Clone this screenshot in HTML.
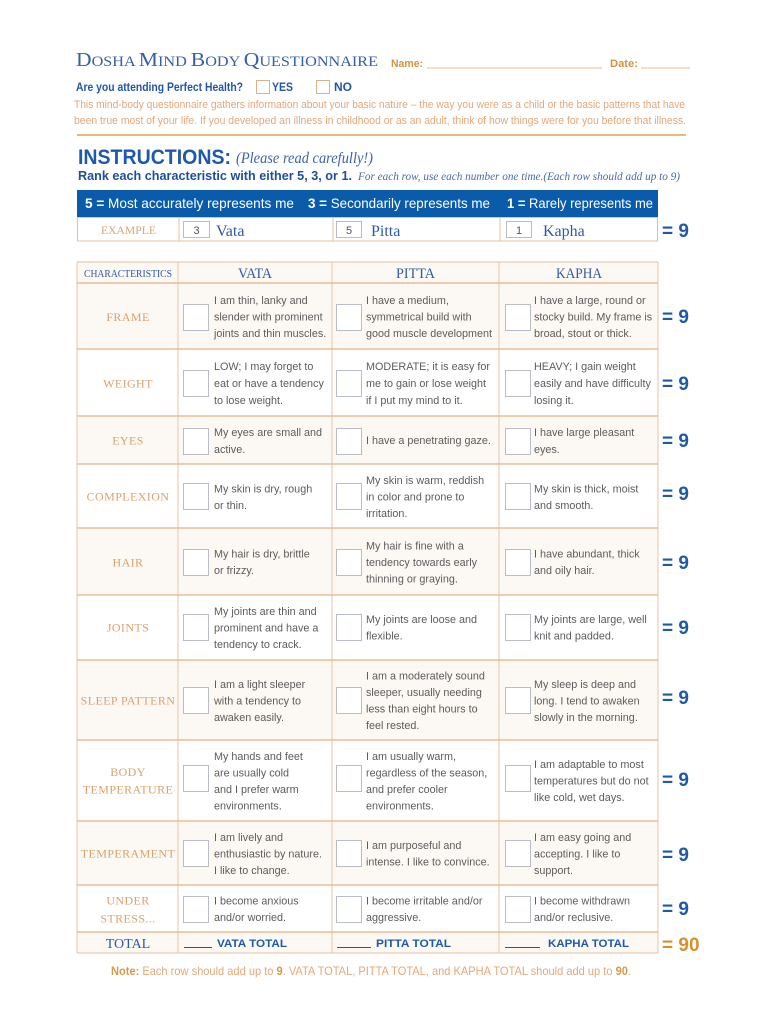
<!DOCTYPE html>
<html><head><meta charset="utf-8"><style>
html,body{margin:0;padding:0;background:#fff;}
svg{display:block;}
.s{font-family:"Liberation Sans",sans-serif;}
.r{font-family:"Liberation Serif",serif;}
.b{font-family:"Liberation Sans",sans-serif;font-size:10.8px;fill:#5c5c5c;}
.lab{font-family:"Liberation Serif",serif;font-size:12px;fill:#d9a26c;letter-spacing:0.4px;text-anchor:middle;}
.eq{font-family:"Liberation Sans",sans-serif;font-size:19px;font-weight:bold;fill:#1d5aaa;}
.box{fill:#fff;stroke:#b9bdc7;stroke-width:1;}
.hl{stroke:#e7b184;stroke-width:1.3;}
.vl{stroke:#eecdb2;stroke-width:1.2;}
</style></head><body>
<svg width="770" height="1024" viewBox="0 0 770 1024" xmlns="http://www.w3.org/2000/svg">
<rect width="770" height="1024" fill="#fff"/>

<!-- Title -->
<text class="r" x="76" y="66" fill="#3560a8" textLength="302" lengthAdjust="spacingAndGlyphs"><tspan font-size="20">D</tspan><tspan font-size="15">OSHA </tspan><tspan font-size="20">M</tspan><tspan font-size="15">IND </tspan><tspan font-size="20">B</tspan><tspan font-size="15">ODY </tspan><tspan font-size="20">Q</tspan><tspan font-size="15">UESTIONNAIRE</tspan></text>
<text class="s" x="391" y="67" font-size="11" font-weight="bold" fill="#d4933e" textLength="32" lengthAdjust="spacingAndGlyphs">Name:</text>
<line x1="427" y1="68" x2="602" y2="68" stroke="#e2bf98" stroke-width="1"/>
<text class="s" x="610" y="67" font-size="11" font-weight="bold" fill="#d4933e" textLength="28" lengthAdjust="spacingAndGlyphs">Date:</text>
<line x1="641" y1="68" x2="690" y2="68" stroke="#e2bf98" stroke-width="1"/>

<text class="s" x="76" y="91" font-size="12" font-weight="bold" fill="#2456a4" textLength="167" lengthAdjust="spacingAndGlyphs">Are you attending Perfect Health?</text>
<rect x="256.5" y="80.5" width="13" height="13" fill="none" stroke="#d9b18c" stroke-width="1"/>
<text class="s" x="272" y="91" font-size="12" font-weight="bold" fill="#2456a4" textLength="21" lengthAdjust="spacingAndGlyphs">YES</text>
<rect x="316.5" y="80.5" width="13" height="13" fill="none" stroke="#d9b18c" stroke-width="1"/>
<text class="s" x="334" y="91" font-size="12" font-weight="bold" fill="#2456a4" textLength="18" lengthAdjust="spacingAndGlyphs">NO</text>

<text class="s" x="74" y="108" font-size="11" fill="#e3a77a" textLength="611" lengthAdjust="spacingAndGlyphs">This mind-body questionnaire gathers information about your basic nature – the way you were as a child or the basic patterns  that have</text>
<text class="s" x="74" y="124" font-size="11" fill="#e3a77a" textLength="612" lengthAdjust="spacingAndGlyphs">been true most of your life. If you developed an illness in childhood or as an adult, think of how things were for you before that illness.</text>
<line x1="77" y1="135" x2="686" y2="135" stroke="#d9912b" stroke-width="1.3"/>

<!-- Instructions -->
<text class="s" x="78" y="164" font-size="21" font-weight="bold" fill="#1e5aab" textLength="153" lengthAdjust="spacingAndGlyphs">INSTRUCTIONS:</text>
<text class="r" x="236" y="163" font-size="16" font-style="italic" fill="#3d63a8" textLength="137" lengthAdjust="spacingAndGlyphs">(Please read carefully!)</text>
<text class="s" x="78" y="180" font-size="13" font-weight="bold" fill="#1e4f9e" textLength="274" lengthAdjust="spacingAndGlyphs">Rank each characteristic with either 5, 3, or 1.</text>
<text class="r" x="358" y="180" font-size="12" font-style="italic" fill="#4a6aa8" textLength="322" lengthAdjust="spacingAndGlyphs">For each row, use each number one time.(Each row should add up to 9)</text>

<rect x="77" y="190" width="581" height="27" fill="#0b5bab"/>
<text class="s" x="85" y="208" font-size="14" fill="#fff" textLength="209" lengthAdjust="spacingAndGlyphs"><tspan font-weight="bold">5 =</tspan> Most accurately represents me</text>
<text class="s" x="308" y="208" font-size="14" fill="#fff" textLength="182" lengthAdjust="spacingAndGlyphs"><tspan font-weight="bold">3 =</tspan> Secondarily represents me</text>
<text class="s" x="507" y="208" font-size="14" fill="#fff" textLength="146" lengthAdjust="spacingAndGlyphs"><tspan font-weight="bold">1 =</tspan> Rarely represents me</text>

<!-- Example row -->
<rect x="77.5" y="217.5" width="580" height="23.5" fill="#fff" stroke="#e8c09c" stroke-width="1"/>
<line x1="179" y1="217" x2="179" y2="241" stroke="#e8c09c" stroke-width="1"/>
<line x1="333" y1="217" x2="333" y2="241" stroke="#e8c09c" stroke-width="1"/>
<line x1="500" y1="217" x2="500" y2="241" stroke="#e8c09c" stroke-width="1"/>
<text class="r" x="101" y="234" font-size="12" fill="#d9a873" textLength="55" lengthAdjust="spacingAndGlyphs">EXAMPLE</text>
<rect x="183.5" y="221.5" width="26" height="16" fill="#fff" stroke="#b9bdc7"/>
<text class="s" x="196.5" y="234" font-size="11" fill="#555" text-anchor="middle">3</text>
<text class="r" x="216" y="236" font-size="16" fill="#2d5aa5">Vata</text>
<rect x="336.5" y="221.5" width="25" height="16" fill="#fff" stroke="#b9bdc7"/>
<text class="s" x="349" y="234" font-size="11" fill="#555" text-anchor="middle">5</text>
<text class="r" x="371" y="236" font-size="16" fill="#2d5aa5">Pitta</text>
<rect x="506.5" y="221.5" width="25" height="16" fill="#fff" stroke="#b9bdc7"/>
<text class="s" x="519" y="234" font-size="11" fill="#555" text-anchor="middle">1</text>
<text class="r" x="543" y="236" font-size="16" fill="#2d5aa5">Kapha</text>
<text class="eq" x="662" y="237">= 9</text>

<!-- Table backgrounds -->
<rect x="77" y="262" width="581" height="21" fill="#fcf8f4"/>
<rect x="77" y="283" width="581" height="66" fill="#fcf8f4"/>
<rect x="77" y="416" width="581" height="48" fill="#fcf8f4"/>
<rect x="77" y="528" width="581" height="67" fill="#fcf8f4"/>
<rect x="77" y="660" width="581" height="80" fill="#fcf8f4"/>
<rect x="77" y="821" width="581" height="64" fill="#fcf8f4"/>
<rect x="77" y="932" width="581" height="21" fill="#fcf8f4"/>

<!-- Table lines -->
<line class="vl" x1="77" y1="262" x2="77" y2="953"/>
<line class="vl" x1="178" y1="262" x2="178" y2="953"/>
<line class="vl" x1="332" y1="262" x2="332" y2="953"/>
<line class="vl" x1="499" y1="262" x2="499" y2="953"/>
<line class="vl" x1="658" y1="262" x2="658" y2="953"/>
<line x1="77" y1="262" x2="658" y2="262" stroke="#eccbad" stroke-width="1.2"/>
<line class="hl" x1="77" y1="283" x2="658" y2="283"/>
<line class="hl" x1="77" y1="349" x2="658" y2="349"/>
<line class="hl" x1="77" y1="416" x2="658" y2="416"/>
<line class="hl" x1="77" y1="464" x2="658" y2="464"/>
<line class="hl" x1="77" y1="528" x2="658" y2="528"/>
<line class="hl" x1="77" y1="595" x2="658" y2="595"/>
<line class="hl" x1="77" y1="660" x2="658" y2="660"/>
<line class="hl" x1="77" y1="740" x2="658" y2="740"/>
<line class="hl" x1="77" y1="821" x2="658" y2="821"/>
<line class="hl" x1="77" y1="885" x2="658" y2="885"/>
<line class="hl" x1="77" y1="932" x2="658" y2="932"/>
<line x1="77" y1="953" x2="658" y2="953" stroke="#eccbad" stroke-width="1.2"/>

<!-- Header row -->
<text class="r" x="84" y="277" font-size="11" fill="#2d5aa5" textLength="88" lengthAdjust="spacingAndGlyphs">CHARACTERISTICS</text>
<text class="r" x="238" y="278" font-size="15" fill="#2d5aa5" textLength="34" lengthAdjust="spacingAndGlyphs">VATA</text>
<text class="r" x="396" y="278" font-size="15" fill="#2d5aa5" textLength="39" lengthAdjust="spacingAndGlyphs">PITTA</text>
<text class="r" x="556" y="278" font-size="15" fill="#2d5aa5" textLength="46" lengthAdjust="spacingAndGlyphs">KAPHA</text>

<!-- Labels -->
<text class="lab" x="128" y="321">FRAME</text>
<text class="lab" x="128" y="387.5">WEIGHT</text>
<text class="lab" x="128" y="444.5">EYES</text>
<text class="lab" x="128" y="500.5">COMPLEXION</text>
<text class="lab" x="128" y="566.5">HAIR</text>
<text class="lab" x="128" y="631.5">JOINTS</text>
<text class="lab" x="128" y="704.5">SLEEP PATTERN</text>
<text class="lab" x="128" y="776">BODY</text>
<text class="lab" x="128" y="793.5">TEMPERATURE</text>
<text class="lab" x="128" y="857.5">TEMPERAMENT</text>
<text class="lab" x="128" y="904.5">UNDER</text>
<text class="lab" x="128" y="922.5">STRESS...</text>
<text class="r" x="128" y="948" font-size="14" fill="#2d5aa5" text-anchor="middle">TOTAL</text>

<!-- Checkboxes -->
<g>
<rect class="box" x="183.5" y="304.5" width="25" height="26"/><rect class="box" x="336.5" y="304.5" width="25" height="26"/><rect class="box" x="505.5" y="304.5" width="25" height="26"/>
<rect class="box" x="183.5" y="370.5" width="25" height="26"/><rect class="box" x="336.5" y="370.5" width="25" height="26"/><rect class="box" x="505.5" y="370.5" width="25" height="26"/>
<rect class="box" x="183.5" y="428.5" width="25" height="26"/><rect class="box" x="336.5" y="428.5" width="25" height="26"/><rect class="box" x="505.5" y="428.5" width="25" height="26"/>
<rect class="box" x="183.5" y="483.5" width="25" height="26"/><rect class="box" x="336.5" y="483.5" width="25" height="26"/><rect class="box" x="505.5" y="483.5" width="25" height="26"/>
<rect class="box" x="183.5" y="549.5" width="25" height="26"/><rect class="box" x="336.5" y="549.5" width="25" height="26"/><rect class="box" x="505.5" y="549.5" width="25" height="26"/>
<rect class="box" x="183.5" y="614.5" width="25" height="26"/><rect class="box" x="336.5" y="614.5" width="25" height="26"/><rect class="box" x="505.5" y="614.5" width="25" height="26"/>
<rect class="box" x="183.5" y="687.5" width="25" height="26"/><rect class="box" x="336.5" y="687.5" width="25" height="26"/><rect class="box" x="505.5" y="687.5" width="25" height="26"/>
<rect class="box" x="183.5" y="765.5" width="25" height="26"/><rect class="box" x="336.5" y="765.5" width="25" height="26"/><rect class="box" x="505.5" y="765.5" width="25" height="26"/>
<rect class="box" x="183.5" y="840.5" width="25" height="26"/><rect class="box" x="336.5" y="840.5" width="25" height="26"/><rect class="box" x="505.5" y="840.5" width="25" height="26"/>
<rect class="box" x="183.5" y="896.5" width="25" height="26"/><rect class="box" x="336.5" y="896.5" width="25" height="26"/><rect class="box" x="505.5" y="896.5" width="25" height="26"/>
</g>

<!-- Frame -->
<text class="b" x="214" y="304">I am thin, lanky and</text>
<text class="b" x="214" y="320.5">slender with prominent</text>
<text class="b" x="214" y="337">joints and thin muscles.</text>
<text class="b" x="366" y="304">I have a medium,</text>
<text class="b" x="366" y="320.5">symmetrical build with</text>
<text class="b" x="366" y="337">good muscle development</text>
<text class="b" x="534" y="304">I have a large, round or</text>
<text class="b" x="534" y="320.5">stocky build. My frame is</text>
<text class="b" x="534" y="337">broad, stout or thick.</text>

<!-- Weight -->
<text class="b" x="214" y="370">LOW; I may forget to</text>
<text class="b" x="214" y="387">eat or have a tendency</text>
<text class="b" x="214" y="404">to lose weight.</text>
<text class="b" x="366" y="370">MODERATE; it is easy for</text>
<text class="b" x="366" y="387">me to gain or lose weight</text>
<text class="b" x="366" y="404">if I put my mind to it.</text>
<text class="b" x="534" y="370">HEAVY; I gain weight</text>
<text class="b" x="534" y="387">easily and have difficulty</text>
<text class="b" x="534" y="404">losing it.</text>

<!-- Eyes -->
<text class="b" x="214" y="436">My eyes are small and</text>
<text class="b" x="214" y="453">active.</text>
<text class="b" x="366" y="444">I have a penetrating gaze.</text>
<text class="b" x="534" y="436">I have large pleasant</text>
<text class="b" x="534" y="453">eyes.</text>

<!-- Complexion -->
<text class="b" x="214" y="492.5">My skin is dry, rough</text>
<text class="b" x="214" y="509">or thin.</text>
<text class="b" x="366" y="484">My skin is warm, reddish</text>
<text class="b" x="366" y="500.5">in color and prone to</text>
<text class="b" x="366" y="517">irritation.</text>
<text class="b" x="534" y="492.5">My skin is thick, moist</text>
<text class="b" x="534" y="509">and smooth.</text>

<!-- Hair -->
<text class="b" x="214" y="557.5">My hair is dry, brittle</text>
<text class="b" x="214" y="574">or frizzy.</text>
<text class="b" x="366" y="549.5">My hair is fine with a</text>
<text class="b" x="366" y="566">tendency towards early</text>
<text class="b" x="366" y="582.5">thinning or graying.</text>
<text class="b" x="534" y="557.5">I have abundant, thick</text>
<text class="b" x="534" y="574">and oily hair.</text>

<!-- Joints -->
<text class="b" x="214" y="615">My joints are thin and</text>
<text class="b" x="214" y="631.5">prominent and have a</text>
<text class="b" x="214" y="648">tendency to crack.</text>
<text class="b" x="366" y="623">My joints are loose and</text>
<text class="b" x="366" y="639.5">flexible.</text>
<text class="b" x="534" y="623">My joints are large, well</text>
<text class="b" x="534" y="639.5">knit and padded.</text>

<!-- Sleep -->
<text class="b" x="214" y="688">I am a light sleeper</text>
<text class="b" x="214" y="704.5">with a tendency to</text>
<text class="b" x="214" y="721">awaken easily.</text>
<text class="b" x="366" y="679.5">I am a moderately sound</text>
<text class="b" x="366" y="696">sleeper, usually needing</text>
<text class="b" x="366" y="712.5">less than eight hours to</text>
<text class="b" x="366" y="729">feel rested.</text>
<text class="b" x="534" y="688">My sleep is deep and</text>
<text class="b" x="534" y="704.5">long. I tend to awaken</text>
<text class="b" x="534" y="721">slowly in the morning.</text>

<!-- Body temperature -->
<text class="b" x="214" y="760">My hands and feet</text>
<text class="b" x="214" y="776.5">are usually cold</text>
<text class="b" x="214" y="793">and I prefer warm</text>
<text class="b" x="214" y="809.5">environments.</text>
<text class="b" x="366" y="760">I am usually warm,</text>
<text class="b" x="366" y="776.5">regardless of the season,</text>
<text class="b" x="366" y="793">and prefer cooler</text>
<text class="b" x="366" y="809.5">environments.</text>
<text class="b" x="534" y="768">I am adaptable to most</text>
<text class="b" x="534" y="784.5">temperatures but do not</text>
<text class="b" x="534" y="801">like cold, wet days.</text>

<!-- Temperament -->
<text class="b" x="214" y="841">I am lively and</text>
<text class="b" x="214" y="857.5">enthusiastic by nature.</text>
<text class="b" x="214" y="874">I like to change.</text>
<text class="b" x="366" y="849">I am purposeful and</text>
<text class="b" x="366" y="865.5">intense. I like to convince.</text>
<text class="b" x="534" y="841">I am easy going and</text>
<text class="b" x="534" y="857.5">accepting. I like to</text>
<text class="b" x="534" y="874">support.</text>

<!-- Stress -->
<text class="b" x="214" y="904.5">I become anxious</text>
<text class="b" x="214" y="921">and/or worried.</text>
<text class="b" x="366" y="904.5">I become irritable and/or</text>
<text class="b" x="366" y="921">aggressive.</text>
<text class="b" x="534" y="904.5">I become withdrawn</text>
<text class="b" x="534" y="921">and/or reclusive.</text>

<!-- Totals -->
<line x1="184" y1="947.5" x2="212" y2="947.5" stroke="#1e5aab" stroke-width="1"/>
<text class="s" x="217" y="947" font-size="11" font-weight="bold" fill="#1e5aab" textLength="70" lengthAdjust="spacingAndGlyphs">VATA TOTAL</text>
<line x1="337" y1="947.5" x2="371" y2="947.5" stroke="#1e5aab" stroke-width="1"/>
<text class="s" x="376" y="947" font-size="11" font-weight="bold" fill="#1e5aab" textLength="75" lengthAdjust="spacingAndGlyphs">PITTA TOTAL</text>
<line x1="505" y1="947.5" x2="540" y2="947.5" stroke="#1e5aab" stroke-width="1"/>
<text class="s" x="548" y="947" font-size="11" font-weight="bold" fill="#1e5aab" textLength="81" lengthAdjust="spacingAndGlyphs">KAPHA TOTAL</text>

<!-- = 9 column -->
<text class="eq" x="662" y="323">= 9</text>
<text class="eq" x="662" y="390">= 9</text>
<text class="eq" x="662" y="447">= 9</text>
<text class="eq" x="662" y="500">= 9</text>
<text class="eq" x="662" y="569">= 9</text>
<text class="eq" x="662" y="634">= 9</text>
<text class="eq" x="662" y="704">= 9</text>
<text class="eq" x="662" y="786">= 9</text>
<text class="eq" x="662" y="861">= 9</text>
<text class="eq" x="662" y="915">= 9</text>
<text class="eq" x="662" y="951" style="fill:#d8902b">= 90</text>

<!-- Note -->
<text class="s" x="111" y="975" font-size="12" fill="#e3a87a" textLength="520" lengthAdjust="spacingAndGlyphs"><tspan font-weight="bold" fill="#d59a4c">Note:</tspan> Each row should add up to <tspan font-weight="bold" fill="#d59a4c">9</tspan>. VATA TOTAL, PITTA TOTAL, and KAPHA TOTAL should add up to <tspan font-weight="bold" fill="#d59a4c">90</tspan>.</text>
</svg>
</body></html>
